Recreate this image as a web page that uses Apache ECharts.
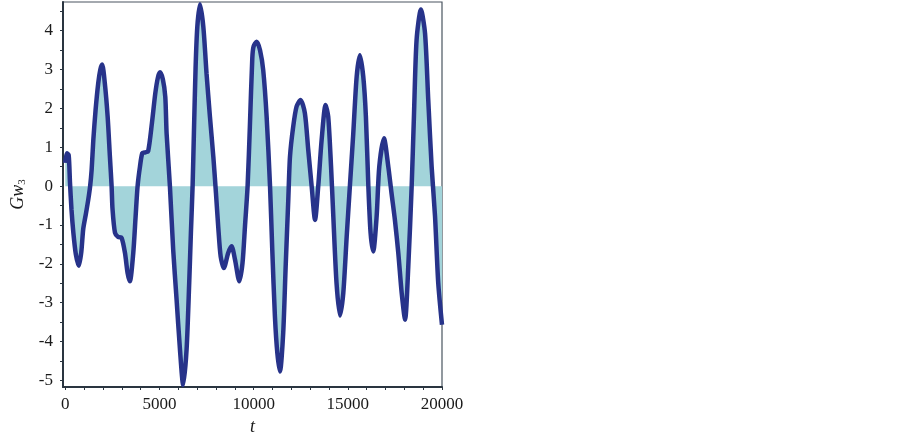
<!DOCTYPE html>
<html>
<head>
<meta charset="utf-8">
<script src="https://cdn.jsdelivr.net/npm/echarts@6/dist/echarts.min.js"></script>
<style>html,body{margin:0;padding:0;background:#fff}#c{width:903px;height:436px}</style>
</head>
<body>
<div id="c"></div>
<script>
var tValues = [0,80,180,250,330,430,560,720,850,955,1100,1220,1320,1400,1490,1610,1750,1860,1960,2100,2250,2370,2460,2510,2640,2810,2990,3170,3310,3430,3610,3735,3840,3965,4090,4250,4400,4600,4780,4920,5030,5180,5310,5380,5555,5730,5910,6090,6260,6440,6580,6670,6760,6830,6920,7010,7150,7330,7500,7680,7860,8000,8120,8250,8420,8650,8830,9010,9240,9410,9540,9680,9800,9930,10000,10160,10340,10510,10690,10870,10990,11130,11260,11400,11570,11700,11840,11930,12100,12280,12490,12720,12900,13080,13260,13430,13610,13820,13960,14110,14230,14400,14580,14760,14940,15110,15290,15470,15640,15820,15960,16090,16210,16350,16530,16670,16920,17150,17320,17500,17680,17860,18040,18210,18390,18510,18650,18880,19100,19270,19450,19630,19800,20000];
var gwValues = [0.6,0.85,0.8,0.1,-0.6,-1.2,-1.75,-2.05,-1.7,-1.1,-0.7,-0.35,0,0.42,1.19,1.96,2.65,3.0,3.13,2.65,1.79,0.76,0,-0.6,-1.2,-1.31,-1.33,-1.72,-2.24,-2.45,-1.72,-0.78,0,0.5,0.85,0.87,0.9,1.62,2.39,2.8,2.93,2.75,2.3,1.36,0,-1.64,-2.92,-4.21,-5.12,-4.21,-2.49,-1.2,0,1.37,3.07,4.1,4.68,4.1,2.9,1.79,0.76,-0.18,-1.04,-1.81,-2.11,-1.72,-1.55,-1.89,-2.45,-1.98,-1.04,0,1.53,3.3,3.6,3.72,3.5,2.98,1.79,0,-1.64,-3.35,-4.3,-4.77,-3.78,-2.07,-0.35,0.76,1.53,2.05,2.22,1.88,0.93,0,-0.87,0,1.19,2.09,1.79,0.5,-0.78,-2.49,-3.33,-2.75,-1.3,0,1.36,2.82,3.37,2.82,1.79,0,-1.21,-1.68,-0.78,0.5,1.23,0.5,-0.18,-0.87,-1.72,-2.75,-3.44,-2.07,0,1.79,3.76,4.55,3.93,2.22,0.5,-0.78,-2.49,-3.57];
var xLabelValues = [0,5000,10000,15000,20000];
var xTickValues = [0,1000,2000,3000,4000,5000,6000,7000,8000,9000,10000,11000,12000,13000,14000,15000,16000,17000,18000,19000,20000];
var yLabelValues = [-5,-4,-3,-2,-1,0,1,2,3,4];
var yTickValues = [-5,-4.5,-4,-3.5,-3,-2.5,-2,-1.5,-1,-0.5,0,0.5,1,1.5,2,2.5,3,3.5,4,4.5];

var seriesData = tValues.map(function(t,i){return [t, gwValues[i]];});
var serif = '"Liberation Serif","DejaVu Serif",serif';
var plain = function(v){return String(v);};
var chart = echarts.init(document.getElementById('c'), null, {renderer:'canvas'});
chart.setOption({
  animation:false,
  backgroundColor:'#ffffff',
  grid:{left:63,right:461,top:2,bottom:49,outerBoundsMode:'none',containLabel:false,show:true,borderColor:'#4a5560',borderWidth:1.2,backgroundColor:'transparent'},
  xAxis:{
    type:'value',min:-120,max:20000,
    name:'t',nameLocation:'middle',nameGap:30,
    nameTextStyle:{fontFamily:serif,fontStyle:'italic',fontSize:18,color:'#1a1a1a'},
    axisLine:{show:true,onZero:false,lineStyle:{color:'#2a3540',width:2}},
    axisTick:{show:true,customValues:xTickValues,length:3,lineStyle:{color:'#2a3540',width:1}},
    axisLabel:{customValues:xLabelValues,formatter:plain,margin:9,fontFamily:serif,fontSize:17,color:'#1a1a1a'},
    splitLine:{show:false}
  },
  yAxis:{
    type:'value',min:-5.17,max:4.74,
    name:'{g|Gw}{s|3}',nameLocation:'middle',nameGap:35,nameRotate:90,
    nameTextStyle:{rich:{g:{fontFamily:serif,fontStyle:'italic',fontSize:18,color:'#1a1a1a'},s:{fontFamily:serif,fontSize:11,color:'#1a1a1a',verticalAlign:'bottom',padding:[8,0,0,0]}}},
    axisLine:{show:true,onZero:false,lineStyle:{color:'#2a3540',width:2}},
    axisTick:{show:true,customValues:yTickValues,length:3,lineStyle:{color:'#2a3540',width:1}},
    axisLabel:{customValues:yLabelValues,formatter:plain,margin:10,fontFamily:serif,fontSize:17,color:'#1a1a1a'},
    splitLine:{show:false}
  },
  series:[{
    type:'line',data:seriesData,smooth:0.25,showSymbol:false,
    lineStyle:{color:'#27338a',width:4.5},
    areaStyle:{color:'#a3d4da',opacity:1,origin:0}
  }]
});
</script>
</body>
</html>
